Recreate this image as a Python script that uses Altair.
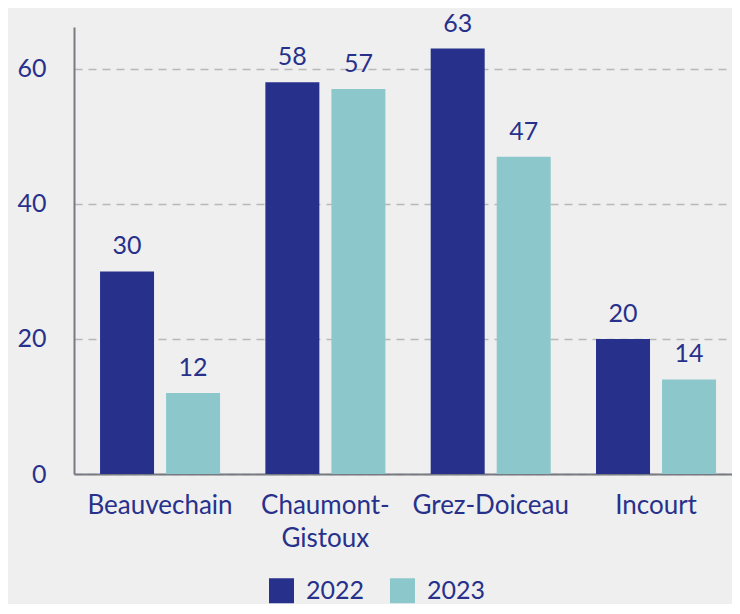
import altair as alt
import pandas as pd

communes = ["Beauvechain", "Chaumont-Gistoux", "Grez-Doiceau", "Incourt"]
years = ["2022", "2023"]
values_2022 = [30, 58, 63, 20]
values_2023 = [12, 57, 47, 14]

rows = []
for c, v22, v23 in zip(communes, values_2022, values_2023):
    rows.append({"commune": c, "year": "2022", "value": v22})
    rows.append({"commune": c, "year": "2023", "value": v23})
df = pd.DataFrame(rows)

NAVY = "#27318b"
TEAL = "#8cc8cb"
TEXT = "#27318b"
FONT = "Lato"

x = alt.X("commune:N", sort=communes, title=None,
          scale=alt.Scale(paddingInner=0.274, paddingOuter=0.127, align=0.62),
          axis=alt.Axis(labelAngle=0, labelFontSize=26, labelColor=TEXT, labelFont=FONT,
                        labelPadding=18, ticks=False, domainColor="#777a80", domainWidth=2,
                        labelLineHeight=33,
                        labelExpr="datum.label == 'Chaumont-Gistoux' ? ['Chaumont-', 'Gistoux'] : datum.label"))
xo = alt.XOffset("year:N", sort=years, scale=alt.Scale(paddingInner=0.182, paddingOuter=0))
y = alt.Y("value:Q", title=None,
          scale=alt.Scale(domain=[0, 66.2], nice=False),
          axis=alt.Axis(values=[0, 20, 40, 60], labelFontSize=25, labelColor=TEXT, labelFont=FONT,
                        labelPadding=28, ticks=False, domainColor="#777a80", domainWidth=2,
                        grid=True, gridDash=[8, 6], gridColor="#b8b8b8", gridWidth=1.5))
color = alt.Color("year:N", sort=years,
                  scale=alt.Scale(domain=years, range=[NAVY, TEAL]),
                  legend=alt.Legend(orient="none", legendX=195, legendY=551, direction="horizontal",
                                    title=None, symbolType="square",
                                    symbolSize=625, symbolStrokeWidth=0, labelFontSize=25,
                                    labelColor=TEXT, labelFont=FONT, columnPadding=25,
                                    labelOffset=12))

base = alt.Chart(df).encode(x=x, xOffset=xo, y=y)
bars = base.mark_bar().encode(color=color)
labels = base.mark_text(dy=-25, fontSize=25, color=TEXT, font=FONT).encode(text="value:Q")

chart = (bars + labels).properties(width=658, height=447, background="#efefef",
                                   padding={"left": 8, "top": 3, "right": 0, "bottom": 0}).configure_view(stroke=None)
chart.save("out.html", embed_options={"renderer": "svg", "actions": False})
